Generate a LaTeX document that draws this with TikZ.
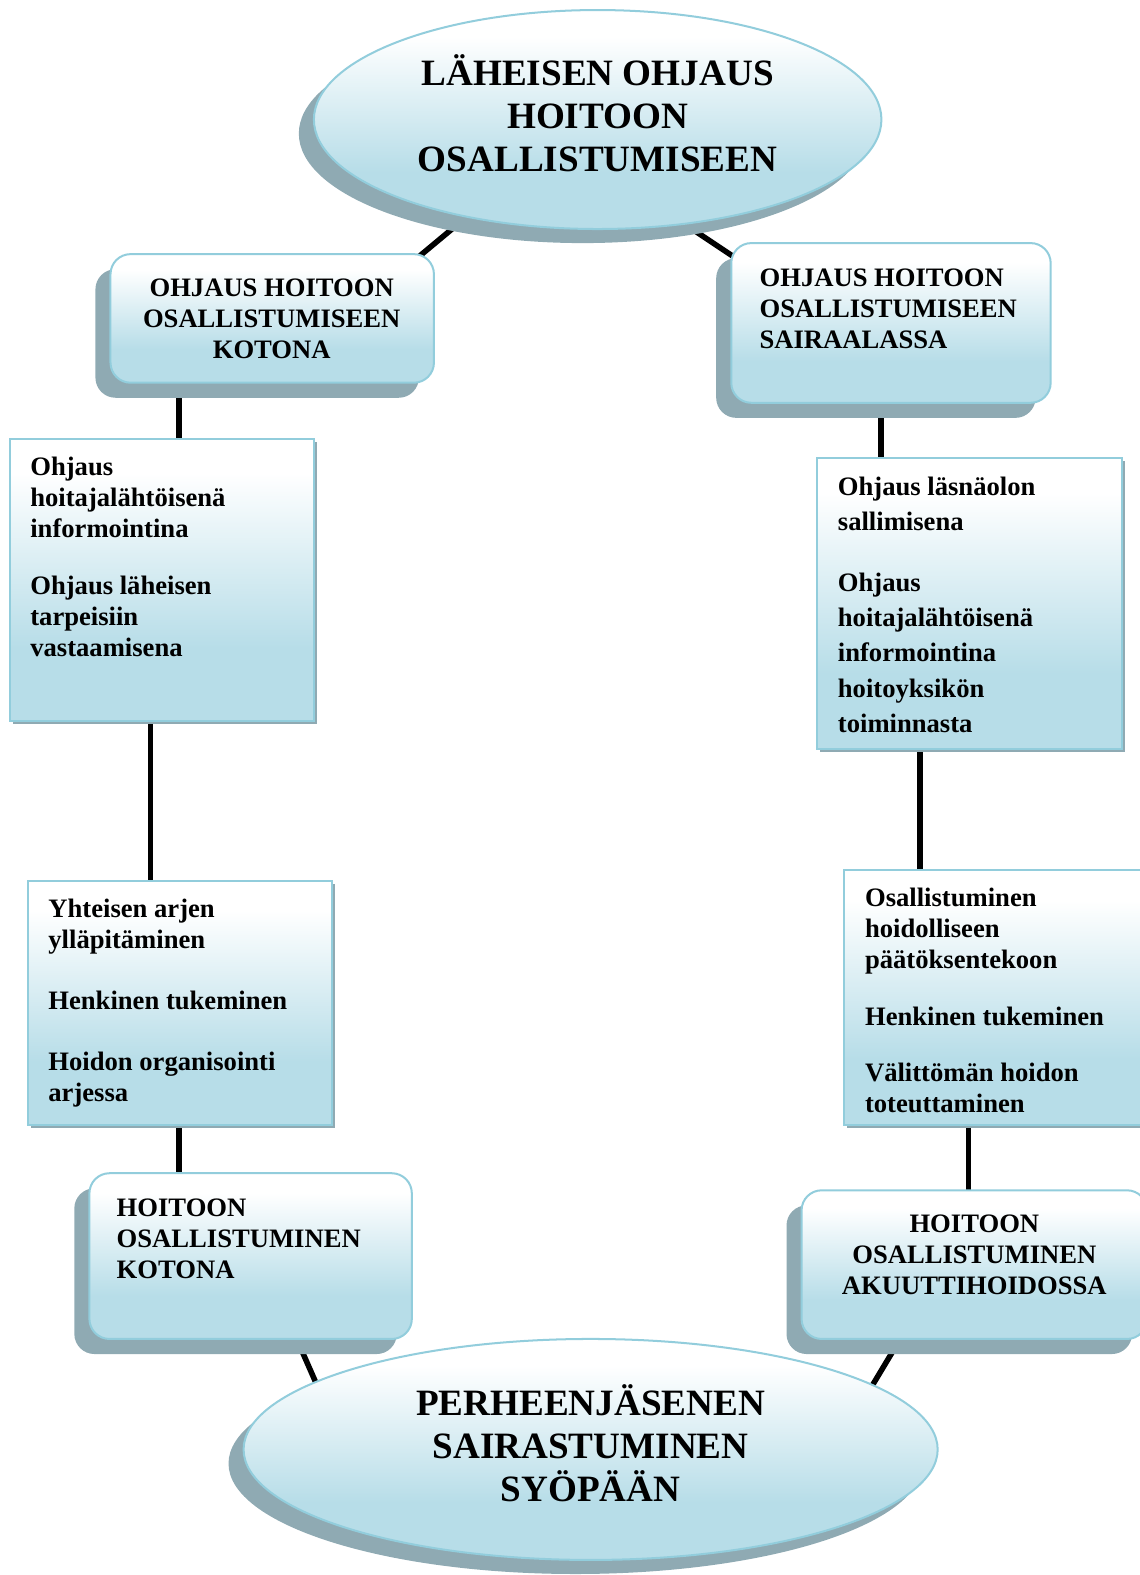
\documentclass[tikz,border=0pt]{standalone}
\usepackage{fontspec}
\setmainfont{Liberation Serif}
\usetikzlibrary{shapes.geometric,shadows,calc}

\definecolor{lb}{HTML}{B7DDE8}
\definecolor{edgeblue}{HTML}{92CDDC}
\definecolor{shadowcol}{HTML}{8FAAB3}

% white at the top, pale blue over the lower part
\pgfdeclareverticalshading{boxfill}{100bp}{color(0bp)=(lb); color(38bp)=(lb); color(69bp)=(white); color(100bp)=(white)}

\pgfdeclarelayer{background}
\pgfsetlayers{background,main}

\newcommand\titlefont{\fontsize{37}{43}\selectfont\bfseries}
\newcommand\boxfont{\fontsize{26.5}{31}\selectfont\bfseries}
\newcommand\widefont{\fontsize{26.5}{35}\selectfont\bfseries}

\begin{document}
\lineskiplimit=-1000pt
\begin{tikzpicture}[x=1pt,y=-1pt,
  oval/.style={ellipse, draw=edgeblue, line width=2pt, shading=boxfill, inner sep=0pt,
    align=center, font=\titlefont,
    drop shadow={shadow xshift=-15pt, shadow yshift=-14pt, fill=shadowcol, opacity=1}},
  roundbox/.style={rectangle, rounded corners=20pt, draw=edgeblue, line width=2pt, shading=boxfill, inner sep=0pt,
    drop shadow={shadow xshift=-15pt, shadow yshift=-15pt, fill=shadowcol, opacity=1}},
  squarebox/.style={rectangle, draw=edgeblue, line width=2pt, shading=boxfill, inner sep=0pt,
    drop shadow={shadow xshift=3pt, shadow yshift=-3pt, fill=shadowcol, opacity=1}},
  label/.style={inner sep=0pt, font=\boxfont},
  conn/.style={line width=5.5pt, black}]

\useasboundingbox (0,0) rectangle (1134,1568);

% ovals at top and bottom
\node[oval, minimum width=565pt, minimum height=218pt] (top) at (595,119)
  {\strut LÄHEISEN OHJAUS\\\strut HOITOON\\\strut OSALLISTUMISEEN};
\node[oval, minimum width=691pt, minimum height=220pt] (bot) at (588,1443)
  {\strut PERHEENJÄSENEN\\\strut SAIRASTUMINEN\\\strut SYÖPÄÄN};

% rounded heading boxes
\node[roundbox, minimum width=322pt, minimum height=128pt] (k1) at (271,317) {};
\node[roundbox, minimum width=318pt, minimum height=159pt] (s1) at (887,321.5) {};
\node[roundbox, minimum width=321pt, minimum height=165pt] (k2) at (249.5,1250.5) {};
\node[roundbox, minimum width=344pt, minimum height=148pt] (s2) at (970,1259) {};

% plain content boxes
\node[squarebox, minimum width=303pt, minimum height=281pt] (l1) at (161.5,577.5) {};
\node[squarebox, minimum width=303pt, minimum height=243pt] (l2) at (179,998.5) {};
\node[squarebox, minimum width=304pt, minimum height=290pt] (r1) at (965,601) {};
\node[squarebox, minimum width=302pt, minimum height=254pt] (r2) at (991,993) {};

% texts of the boxes
\node[label, anchor=north, align=center] (k1t) at (270.5,273.1)
  {\strut OHJAUS HOITOON\\\strut OSALLISTUMISEEN\\\strut KOTONA};
\node[label, anchor=north west, align=left] (s1t) at (756,263.1)
  {\strut OHJAUS HOITOON\\\strut OSALLISTUMISEEN\\\strut SAIRAALASSA};
\node[label, anchor=north west, align=left] (k2t) at (116,1189.1)
  {\strut HOITOON\\\strut OSALLISTUMINEN\\\strut KOTONA};
\node[label, anchor=north, align=center] (s2t) at (970,1205.1)
  {\strut HOITOON\\\strut OSALLISTUMINEN\\\strut AKUUTTIHOIDOSSA};

\node[label, anchor=north west, align=left] (l1t) at (30,451.1)
  {\strut Ohjaus\\\strut hoitajalähtöisenä\\\strut informointina\\[26pt]
   \strut Ohjaus läheisen\\\strut tarpeisiin\\\strut vastaamisena};
\node[label, anchor=north west, align=left] (l2t) at (48,891.1)
  {\strut Yhteisen arjen\\\strut ylläpitäminen\\[30pt]
   \strut Henkinen tukeminen\\[30pt]
   \strut Hoidon organisointi\\\strut arjessa};
\node[label, font=\widefont, anchor=north west, align=left] (r1t) at (834,468.3)
  {\strut Ohjaus läsnäolon\\\strut sallimisena\\[26pt]
   \strut Ohjaus\\\strut hoitajalähtöisenä\\\strut informointina\\\strut hoitoyksikön\\\strut toiminnasta};
\node[label, anchor=north west, align=left] (r2t) at (861,880.1)
  {\strut Osallistuminen\\\strut hoidolliseen\\\strut päätöksentekoon\\[25.5pt]
   \strut Henkinen tukeminen\\[25.5pt]
   \strut Välittömän hoidon\\\strut toteuttaminen};

% connecting bars, drawn behind the shapes
\begin{pgfonlayer}{background}
\draw[conn] ($(top.center)+(-139,104)$) -- ($(k1.center)+(143,-59)$);
\draw[conn] ($(top.center)+(88,105)$) -- ($(s1.center)+(-153,-63.5)$);
\draw[conn] ($(k1.center)+(-93,53)$) -- ($(l1.center)+(16.5,-132.5)$);
\draw[conn] ($(l1.center)+(-11.5,132.5)$) -- ($(l2.center)+(-29,-113.5)$);
\draw[conn] ($(l2.center)+(-1,113.5)$) -- ($(k2.center)+(-71.5,-75.5)$);
\draw[conn] ($(k2.center)+(48.5,88.5)$) -- ($(bot.center)+(-272,-63)$);
\draw[conn] ($(s1.center)+(-10,73.5)$) -- ($(r1.center)+(-88,-136)$);
\draw[conn] ($(r1.center)+(-49,139)$) -- ($(r2.center)+(-75,-118)$);
\draw[conn] ($(r2.center)+(-27,119)$) -- ($(s2.center)+(-6,-64)$);
\draw[conn] ($(s2.center)+(-78,81)$) -- ($(bot.center)+(274,-53)$);
\end{pgfonlayer}

\end{tikzpicture}
\end{document}
